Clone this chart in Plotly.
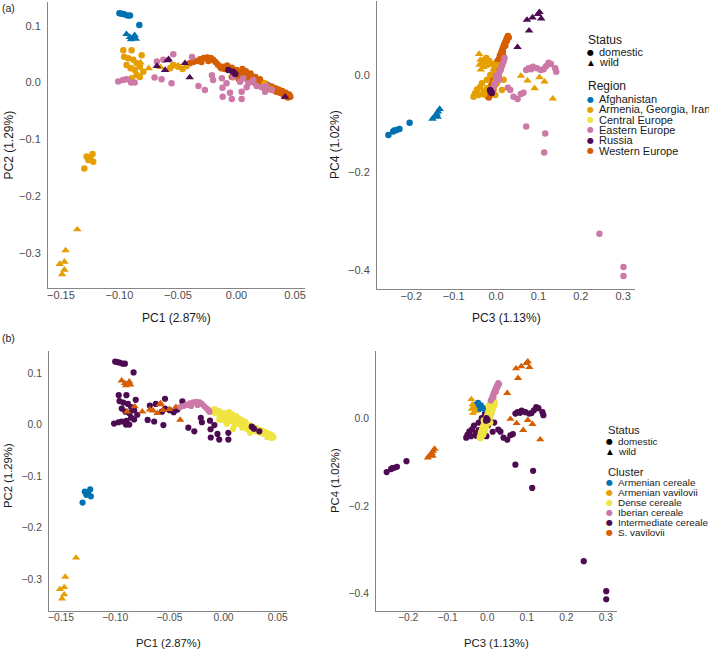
import plotly.graph_objects as go

W, H = 709, 649

# ---------------- data ----------------
# Each sample group: region (panel a colour), cluster (panel b colour), status (shape)
# G1 Afghanistan / Intermediate cereale / domestic
g1_pc1 = [-0.100, -0.098, -0.096, -0.093, -0.091, -0.083]
g1_pc2 = [0.122, 0.121, 0.120, 0.118, 0.118, 0.101]
g1_pc3 = [-0.254, -0.243, -0.235, -0.228, -0.240, -0.204]
g1_pc4 = [-0.123, -0.116, -0.113, -0.111, -0.114, -0.098]
# G2 Afghanistan / S. vavilovii / wild
g2_pc1 = [-0.094, -0.090, -0.087, -0.088, -0.091, -0.086]
g2_pc2 = [0.085, 0.076, 0.083, 0.078, 0.080, 0.077]
g2_pc3 = [-0.150, -0.145, -0.140, -0.137, -0.133, -0.138]
g2_pc4 = [-0.090, -0.085, -0.080, -0.075, -0.070, -0.086]
# G3 Armenia / Armenian cereale / domestic
g3_pc1 = [-0.130, -0.128, -0.1266, -0.125, -0.123, -0.1224]
g3_pc2 = [-0.151, -0.130, -0.136, -0.133, -0.1255, -0.139]
g3_pc3 = [-0.028, -0.023, -0.016, -0.010, -0.004, -0.020]
g3_pc4 = [0.031, 0.035, 0.029, 0.023, 0.020, 0.021]
# G4 Armenia / Armenian vavilovii / wild
g4_pc1 = [-0.136, -0.146, -0.151, -0.147, -0.147, -0.149]
g4_pc2 = [-0.258, -0.295, -0.319, -0.315, -0.329, -0.337]
g4_pc3 = [-0.040, -0.037, -0.039, -0.033, -0.036, -0.030]
g4_pc4 = [0.043, 0.031, 0.021, 0.024, 0.011, 0.016]
# G5 Armenia / Intermediate cereale / domestic
g5_pc1 = [-0.0967, -0.0896, -0.081, -0.096, -0.0925, -0.0882, -0.0853, -0.0939, -0.0905, -0.0868,
          -0.0825, -0.0853, -0.0896, -0.0825, -0.0796, -0.054, -0.0497, -0.046, -0.0426, -0.0568]
g5_pc2 = [0.057, 0.057, 0.048, 0.0455, 0.0426, 0.040, 0.034, 0.031, 0.025, 0.022,
          0.028, 0.0133, 0.0074, 0.010, 0.019, 0.031, 0.028, 0.024, 0.029, 0.025]
g5_pc3 = [-0.053, -0.0412, -0.0294, -0.0215, -0.0333, -0.0215, -0.0137, -0.0058, -0.045, -0.050,
          0.002, 0.006, -0.0097, 0.0138, -0.0019, -0.038, -0.028, 0.002, 0.0099, 0.0178]
g5_pc4 = [-0.0445, -0.041, -0.034, -0.027, -0.017, -0.010, 0.000, 0.010, -0.030, -0.038,
          -0.017, -0.0034, -0.031, -0.031, -0.041, -0.025, -0.040, 0.0205, 0.010, -0.010]
# G6 Armenia / S. vavilovii / wild
g6_pc1 = [-0.089, -0.082, -0.075, -0.065, -0.056, -0.050]
g6_pc2 = [0.025, 0.035, 0.025, 0.027, 0.028, 0.030]
g6_pc3 = [0.0587, 0.0743, 0.091, 0.1026, 0.1144, 0.134]
g6_pc4 = [-0.002, -0.0117, -0.0273, -0.0047, -0.0137, -0.0487]
# G7 Russia / S. vavilovii / wild
g7_pc1 = [-0.068, -0.058, -0.061, -0.044, -0.040, 0.0415, -0.059]
g7_pc2 = [0.029, 0.041, 0.022, 0.034, 0.009, -0.025, 0.039]
g7_pc3 = [0.073, 0.086, 0.1026, 0.1066, 0.078, 0.0507, 0.099]
g7_pc4 = [0.113, 0.118, 0.129, 0.116, 0.091, 0.057, 0.125]
# G8a Russia / Dense cereale / domestic
g8a_pc1 = [-0.007, -0.003, -0.001]
g8a_pc2 = [0.022, 0.019, 0.015]
g8a_pc3 = [-0.014, -0.010, -0.012]
g8a_pc4 = [-0.031, -0.037, -0.034]
# G8b Russia / Intermediate cereale / domestic
g8b_pc1 = [0.026, 0.028, 0.033]
g8b_pc2 = [-0.004, -0.008, -0.013]
g8b_pc3 = [-0.002, 0.001, -0.003]
g8b_pc4 = [0.000, -0.004, -0.006]
# G9 Eastern Europe / Intermediate cereale / domestic
g9_pc1 = [-0.101, -0.097, -0.094, -0.090, -0.087, -0.070, -0.064, -0.068, -0.0625, -0.054, -0.0555, -0.038,
          -0.0325, -0.027, -0.021, -0.020, -0.0125, -0.012, -0.0085, -0.0118, -0.0056, -0.004, 0.0044, 0.0044]
g9_pc2 = [0.002, 0.0045, 0.006, 0.000, 0.000, 0.009, 0.006, 0.037, 0.040, 0.050, -0.001, 0.045,
          -0.006, -0.013, 0.013, 0.0045, 0.0075, -0.009, -0.001, -0.025, -0.018, -0.029, -0.029, -0.016]
g9_pc3 = [0.0767, 0.087, 0.0964, 0.1058, 0.1121, 0.1239, 0.1294, 0.1396, 0.142, 0.0712, 0.0335, 0.0413,
          0.0508, 0.0586, 0.0649, 0.0712, 0.116, 0.1137, 0.244, 0.3008, 0.3008, 0.028, 0.083, 0.118]
g9_pc4 = [0.0137, 0.0171, 0.0137, 0.0103, 0.0116, 0.0253, 0.0226, 0.0137, 0.0068, 0.0103, -0.0308, -0.0445,
          -0.0493, -0.039, -0.0363, -0.106, -0.120, -0.159, -0.326, -0.3944, -0.4127, -0.026, 0.012, 0.018]
# G10 Eastern Europe / Dense cereale / domestic
g10_pc1 = [-0.0027, 0.003, 0.0101, 0.013, 0.0172, 0.0215, 0.0258, 0.030, 0.0144, 0.0087, 0.0244, 0.0058]
g10_pc2 = [0.0092, 0.0016, -0.0013, 0.0016, -0.006, -0.0084, -0.006, -0.013, 0.0045, -0.0084, -0.016, 0.0074]
g10_pc3 = [-0.008, -0.004, 0.000, 0.003, 0.006, 0.009, 0.012, 0.015, 0.018, 0.000, 0.008, 0.020]
g10_pc4 = [-0.028, -0.020, -0.012, -0.005, 0.002, 0.008, 0.015, 0.022, 0.028, -0.002, -0.010, 0.035]
# G11 Western Europe / Iberian cereale / domestic
g11_pc1 = [-0.040, -0.037, -0.034, -0.031, -0.028, -0.025, -0.022, -0.020, -0.018, -0.016, -0.014, -0.013, -0.030, -0.024]
g11_pc2 = [0.034, 0.036, 0.038, 0.041, 0.043, 0.044, 0.043, 0.040, 0.036, 0.032, 0.028, 0.025, 0.036, 0.038]
g11_pc3 = [0.009, 0.012, 0.014, 0.016, 0.018, 0.020, 0.022, 0.024, 0.026, 0.028, 0.030, 0.016, 0.022, 0.026]
g11_pc4 = [0.040, 0.045, 0.050, 0.055, 0.060, 0.064, 0.068, 0.072, 0.076, 0.080, 0.077, 0.048, 0.060, 0.070]
# G12 Western Europe / Dense cereale / domestic
g12_pc1 = [-0.012, -0.010, -0.008, -0.006, -0.004, -0.002, 0.000, 0.001, 0.003, 0.004, 0.006, 0.007, 0.009, 0.010,
           0.012, 0.013, 0.015, 0.016, 0.018, 0.019, 0.021, 0.022, 0.024, 0.025, 0.027, 0.028, 0.030, 0.031,
           0.033, 0.034, 0.036, 0.037, 0.039, 0.040, 0.042, 0.043, 0.045, 0.046, 0.044, 0.041,
           0.005, 0.008, -0.004, 0.012, 0.016, 0.020, 0.002]
g12_pc2 = [0.028, 0.024, 0.030, 0.022, 0.026, 0.018, 0.022, 0.014, 0.018, 0.010, 0.015, 0.008, 0.012, 0.004,
           0.009, 0.002, 0.006, -0.001, 0.003, -0.004, 0.000, -0.006, -0.002, -0.009, -0.005, -0.011, -0.007, -0.013,
           -0.010, -0.016, -0.012, -0.018, -0.015, -0.021, -0.018, -0.023, -0.021, -0.025, -0.026, -0.024,
           0.024, 0.020, 0.010, 0.016, 0.010, 0.006, 0.006]
g12_pc3 = [-0.019, -0.015, -0.017, -0.013, -0.016, -0.011, -0.014, -0.009, -0.012, -0.007, -0.010, -0.005, -0.008,
           -0.003, -0.006, -0.001, -0.004, 0.001, -0.002, 0.003, 0.000, 0.005, 0.002, 0.007, 0.004, 0.009, 0.006,
           0.011, 0.008, 0.013, 0.010, 0.015, 0.012, 0.017, 0.014, -0.017, -0.010, -0.006, -0.002, 0.002, 0.006,
           0.010, 0.014, 0.016, 0.003, -0.009, 0.007]
g12_pc4 = [-0.044, -0.042, -0.038, -0.036, -0.033, -0.031, -0.028, -0.026, -0.023, -0.021, -0.018, -0.016, -0.013,
           -0.011, -0.008, -0.006, -0.003, -0.001, 0.002, 0.004, 0.007, 0.009, 0.012, 0.014, 0.017, 0.019, 0.022,
           0.024, 0.027, 0.029, 0.032, 0.034, 0.037, 0.039, 0.041, -0.046, -0.038, -0.030, -0.020, -0.010, 0.000,
           0.010, 0.020, 0.028, 0.028, -0.005, 0.033]
# G13 Central Europe / Dense cereale / domestic
g13_pc1 = [0.010, 0.020, 0.030, 0.038]
g13_pc2 = [0.006, -0.002, -0.009, -0.017]
g13_pc3 = [-0.005, 0.000, 0.005, -0.010]
g13_pc4 = [-0.010, 0.000, 0.010, -0.020]
# G14 Armenia / Dense cereale / domestic
g14_pc1 = [0.024, 0.030]
g14_pc2 = [-0.001, -0.012]
g14_pc3 = [-0.003, 0.002]
g14_pc4 = [-0.015, -0.005]

groups = {
    "G1": ("Afghanistan", "Intermediate cereale", "domestic", g1_pc1, g1_pc2, g1_pc3, g1_pc4),
    "G2": ("Afghanistan", "S. vavilovii", "wild", g2_pc1, g2_pc2, g2_pc3, g2_pc4),
    "G3": ("Armenia, Georgia, Iran", "Armenian cereale", "domestic", g3_pc1, g3_pc2, g3_pc3, g3_pc4),
    "G4": ("Armenia, Georgia, Iran", "Armenian vavilovii", "wild", g4_pc1, g4_pc2, g4_pc3, g4_pc4),
    "G5": ("Armenia, Georgia, Iran", "Intermediate cereale", "domestic", g5_pc1, g5_pc2, g5_pc3, g5_pc4),
    "G6": ("Armenia, Georgia, Iran", "S. vavilovii", "wild", g6_pc1, g6_pc2, g6_pc3, g6_pc4),
    "G7": ("Russia", "S. vavilovii", "wild", g7_pc1, g7_pc2, g7_pc3, g7_pc4),
    "G8a": ("Russia", "Dense cereale", "domestic", g8a_pc1, g8a_pc2, g8a_pc3, g8a_pc4),
    "G8b": ("Russia", "Intermediate cereale", "domestic", g8b_pc1, g8b_pc2, g8b_pc3, g8b_pc4),
    "G9": ("Eastern Europe", "Intermediate cereale", "domestic", g9_pc1, g9_pc2, g9_pc3, g9_pc4),
    "G10": ("Eastern Europe", "Dense cereale", "domestic", g10_pc1, g10_pc2, g10_pc3, g10_pc4),
    "G11": ("Western Europe", "Iberian cereale", "domestic", g11_pc1, g11_pc2, g11_pc3, g11_pc4),
    "G12": ("Western Europe", "Dense cereale", "domestic", g12_pc1, g12_pc2, g12_pc3, g12_pc4),
    "G13": ("Central Europe", "Dense cereale", "domestic", g13_pc1, g13_pc2, g13_pc3, g13_pc4),
    "G14": ("Armenia, Georgia, Iran", "Dense cereale", "domestic", g14_pc1, g14_pc2, g14_pc3, g14_pc4),
}

regions = ["Afghanistan", "Armenia, Georgia, Iran", "Central Europe", "Eastern Europe", "Russia", "Western Europe"]
clusters = ["Armenian cereale", "Armenian vavilovii", "Dense cereale", "Iberian cereale",
            "Intermediate cereale", "S. vavilovii"]
statuses = ["domestic", "wild"]

xticks_pc1 = [-0.15, -0.10, -0.05, 0.00, 0.05]
yticks_pc2 = [-0.3, -0.2, -0.1, 0.0, 0.1]
xticks_pc3 = [-0.2, -0.1, 0.0, 0.1, 0.2, 0.3]
yticks_pc4 = [-0.4, -0.2, 0.0]

# ---------------- styles ----------------
PALETTE = ["#0072B2", "#E69F00", "#F0E442", "#CC79A7", "#4d0b52", "#D55E00"]
region_col = dict(zip(regions, PALETTE))
cluster_col = dict(zip(clusters, PALETTE))
symbol = {"domestic": "circle", "wild": "triangle-up"}
msize = {"a": {"domestic": 6.5, "wild": 7.5}, "b": {"domestic": 6.2, "wild": 7.2}}

FONT = "Liberation Sans, Arial, Helvetica, sans-serif"
# panel (b) is a slightly reduced copy of panel (a)
FS = {"a": dict(tick=11, title=12, leg=11, legtitle=12), "b": dict(tick=10.3, title=11.3, leg=9.9, legtitle=11.2)}

order_a = ["G13", "G8b", "G12", "G11", "G5", "G3", "G14", "G10", "G9", "G1", "G8a", "G4", "G6", "G2", "G7"]
order_b = ["G1", "G5", "G9", "G7", "G3", "G4", "G13", "G12", "G10", "G14", "G8a", "G11", "G2", "G6", "G8b"]

# panel geometry in pixels: (x0, x1), (ytop, ybottom)
panels = {
    "a1": ((48, 305), (1.5, 288)),
    "a2": ((377, 635), (0.5, 289)),
    "b1": ((49, 287), (351, 611)),
    "b2": ((376, 617), (351, 611)),
}
rng_pc1 = [-0.161, 0.0585]
rng_pc2 = [-0.361, 0.1425]
rng_pc3 = [-0.281, 0.328]
rng_pc4 = [-0.4395, 0.153]

fig = go.Figure()

axis_map = {"a1": ("x", "y"), "a2": ("x2", "y2"), "b1": ("x3", "y3"), "b2": ("x4", "y4")}


def add_panel(key, order, colour_by, pcs):
    xa, ya = axis_map[key]
    sizes = msize[key[0]]
    for g in order:
        region, cluster, status, p1, p2, p3, p4 = groups[g]
        data = {1: p1, 2: p2, 3: p3, 4: p4}
        col = region_col[region] if colour_by == "region" else cluster_col[cluster]
        fig.add_trace(go.Scatter(
            x=data[pcs[0]], y=data[pcs[1]], mode="markers", xaxis=xa, yaxis=ya,
            marker=dict(symbol=symbol[status], size=sizes[status], color=col, line=dict(width=0)),
            showlegend=False, hoverinfo="skip"))


add_panel("a1", order_a, "region", (1, 2))
add_panel("a2", order_a, "region", (3, 4))
add_panel("b1", order_b, "cluster", (1, 2))
add_panel("b2", order_b, "cluster", (3, 4))

layout = dict(width=W, height=H, margin=dict(l=0, r=0, t=0, b=0, autoexpand=False),
              paper_bgcolor="white", plot_bgcolor="white",
              font=dict(family=FONT, size=11, color="#4d4d4d"), showlegend=False)

axis_style = dict(showgrid=False, zeroline=False, showline=True, linecolor="#858585", linewidth=1.1,
                  ticks="", mirror=False)

specs = {
    "a1": (rng_pc1, rng_pc2, xticks_pc1, yticks_pc2, ".2f", ".1f"),
    "a2": (rng_pc3, rng_pc4, xticks_pc3, yticks_pc4, ".1f", ".1f"),
    "b1": (rng_pc1, rng_pc2, xticks_pc1, yticks_pc2, ".2f", ".1f"),
    "b2": (rng_pc3, rng_pc4, xticks_pc3, yticks_pc4, ".1f", ".1f"),
}
for i, key in enumerate(["a1", "a2", "b1", "b2"]):
    (x0, x1), (yt, yb) = panels[key]
    xr, yr, xt, yt_vals, xf, yf = specs[key]
    tf = dict(family=FONT, size=FS[key[0]]["tick"], color="#4d4d4d")
    sfx = "" if i == 0 else str(i + 1)
    layout["xaxis" + sfx] = dict(axis_style, domain=[x0 / W, x1 / W], range=xr, tickvals=xt, tickfont=tf,
                                 tickformat=xf, anchor="y" + sfx, ticklabelstandoff=-3)
    layout["yaxis" + sfx] = dict(axis_style, domain=[1 - yb / H, 1 - yt / H], range=yr, tickvals=yt_vals,
                                 tickfont=tf, tickformat=yf, anchor="x" + sfx, ticklabelstandoff=4)

fig.update_layout(**layout)

ann = []


def text(px, py, s, size=12, color="#1a1a1a", xanchor="center", angle=0, family=FONT):
    ann.append(dict(x=px / W, y=1 - py / H, xref="paper", yref="paper", text=s, showarrow=False,
                    xanchor=xanchor, yanchor="middle", textangle=angle, borderpad=0,
                    font=dict(family=family, size=size, color=color)))


# axis titles
text(176.5, 318, "PC1 (2.87%)", size=FS["a"]["title"])
text(506, 318, "PC3 (1.13%)", size=FS["a"]["title"])
text(168, 642.5, "PC1 (2.87%)", size=FS["b"]["title"])
text(496.5, 642.5, "PC3 (1.13%)", size=FS["b"]["title"])
text(8.5, 145, "PC2 (1.29%)", angle=-90, size=FS["a"]["title"])
text(335, 145, "PC4 (1.02%)", angle=-90, size=FS["a"]["title"])
text(8, 476, "PC2 (1.29%)", angle=-90, size=FS["b"]["title"])
text(335, 481, "PC4 (1.02%)", angle=-90, size=FS["b"]["title"])
# panel tags
text(1, 7.5, "(a)", size=10.5, xanchor="left")
text(1, 337.5, "(b)", size=10.5, xanchor="left")

GLYPH = "DejaVu Sans"


def legend(p, x_title, key_x, text_x, y_status, y_rows, title2, y_title2, items, colours, y_items):
    fs = FS[p]
    text(x_title, y_status, "Status", size=fs["legtitle"], xanchor="left")
    for st, yy in zip(statuses, y_rows):
        g = "\u25CF" if st == "domestic" else "\u25B2"
        text(key_x, yy, g, size=8 if st == "domestic" else 7.5, color="black", family=GLYPH)
        text(text_x, yy, st, size=fs["leg"], xanchor="left")
    text(x_title, y_title2, title2, size=fs["legtitle"], xanchor="left")
    for it, yy in zip(items, y_items):
        text(key_x, yy, "\u25CF", size=8, color=colours[it], family=GLYPH)
        text(text_x, yy, it, size=fs["leg"], xanchor="left")


legend("a", 586.5, 590.7, 597.5, 40, [52.3, 62.3], "Region", 86, regions, region_col,
       [99 + 10.33 * k for k in range(6)])
legend("b", 606.5, 609.5, 616.5, 430, [441.7, 451.7], "Cluster", 471.7, clusters, cluster_col,
       [482.7 + 10 * k for k in range(6)])

fig.update_layout(annotations=ann)
# the page's default 8px body margin would shift the whole figure; remove it
fig.write_html("out.html", config={"displayModeBar": False},
               post_script="document.body.style.margin='0';")
